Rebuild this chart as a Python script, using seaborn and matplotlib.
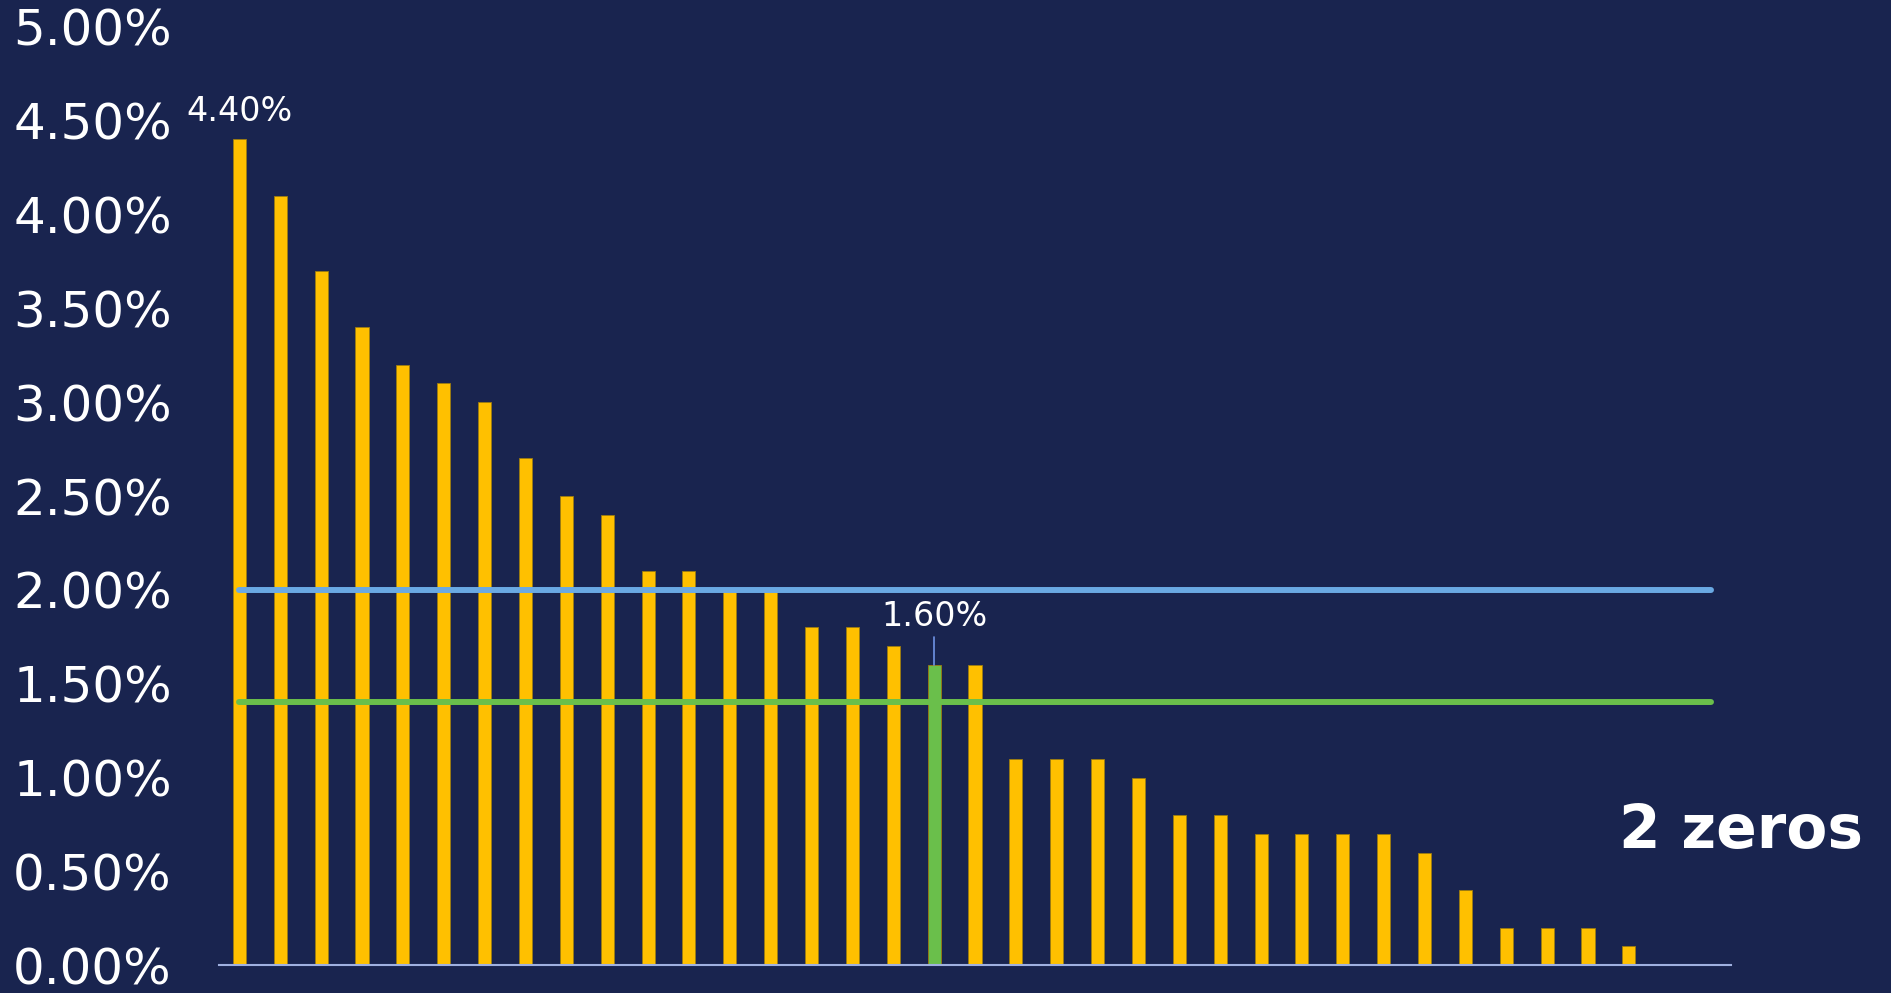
import numpy as np
import matplotlib
matplotlib.use("Agg")
import matplotlib.pyplot as plt
import seaborn as sns

# values in percent, sorted high to low; last two are zeros
values = [4.4, 4.1, 3.7, 3.4, 3.2, 3.1, 3.0, 2.7, 2.5, 2.4, 2.1, 2.1,
          2.0, 2.0, 1.8, 1.8, 1.7, 1.6, 1.6, 1.1, 1.1, 1.1, 1.0, 0.8,
          0.8, 0.7, 0.7, 0.7, 0.7, 0.6, 0.4, 0.2, 0.2, 0.2, 0.1, 0.0, 0.0]
categories = [f"c{i}" for i in range(len(values))]
highlight_idx = 17
blue_level = 2.0
green_level = 1.4
yticks = np.arange(0, 5.01, 0.5)

bg = "#19244f"
yellow = "#ffc000"
green = "#6abf4b"
blue = "#6aa9e3"

sns.set_style("dark")
plt.rcParams["font.family"] = ["DejaVu Sans"]

fig = plt.figure(figsize=(18.91, 9.93), dpi=100, facecolor=bg)
ax = fig.add_axes([0.1158, 0.028, 0.7996, 0.945])
ax.set_facecolor(bg)

colors = [green if i == highlight_idx else yellow for i in range(len(values))]
sns.barplot(x=categories, y=values, hue=categories, palette=colors,
            legend=False, width=0.32, saturation=1, ax=ax,
            edgecolor="#9c7c10", linewidth=0.6)

# reference lines from first to last category
ax.plot([0, len(values) - 1], [blue_level, blue_level], color=blue,
        lw=4.3, solid_capstyle="round", zorder=3)
ax.plot([0, len(values) - 1], [green_level, green_level], color=green,
        lw=4.3, solid_capstyle="round", zorder=3)

ax.set_xlim(-0.5, len(values) - 0.5)
ax.set_ylim(0, 5)
ax.set_yticks(yticks)
ax.set_yticklabels([f"{t:.2f}%" for t in yticks])
ax.tick_params(axis="y", colors="white", labelsize=36, length=0, pad=34)
ax.tick_params(axis="x", length=0, labelbottom=False)
ax.set_xlabel("")
ax.set_ylabel("")
ax.grid(False)
for side in ["top", "right", "left"]:
    ax.spines[side].set_visible(False)
ax.spines["bottom"].set_color("#9fb0e0")
ax.spines["bottom"].set_linewidth(1.5)

# data labels
ax.text(0, values[0] + 0.06, f"{values[0]:.2f}%", ha="center", va="bottom",
        color="white", fontsize=24)
ax.plot([highlight_idx, highlight_idx], [values[highlight_idx], 1.75],
        color="#6f93e6", lw=1.2, zorder=3)
ax.text(highlight_idx, 1.77, f"{values[highlight_idx]:.2f}%", ha="center",
        va="bottom", color="white", fontsize=24)

fig.text(0.985, 0.163, "2 zeros", ha="right", va="center", color="white",
         fontsize=43, fontweight="bold")

fig.savefig("out.png", dpi=100, facecolor=bg)
